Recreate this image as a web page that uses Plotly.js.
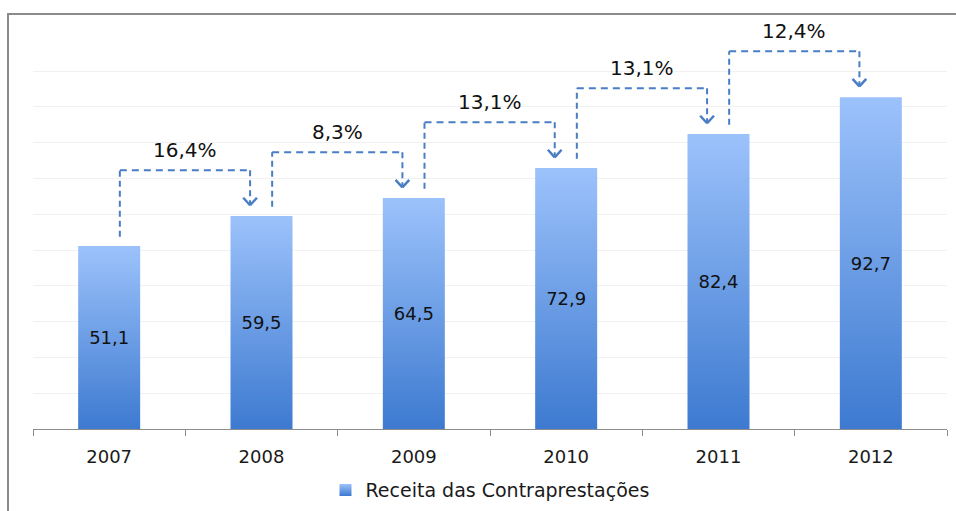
<!DOCTYPE html>
<html>
<head>
<meta charset="utf-8">
<script src="https://cdn.plot.ly/plotly-3.0.1.min.js"></script>
<style>
  html, body { margin: 0; padding: 0; background: #fff; }
  #wrap { position: relative; width: 956px; height: 511px; overflow: hidden; }
  #chart { width: 956px; height: 511px; }
  #frame {
    position: absolute; left: 7px; top: 13px; width: 970px; height: 520px;
    border-left: 2px solid #8a8a8a; border-top: 2px solid #8a8a8a;
    pointer-events: none;
  }
</style>
</head>
<body>
<div id="wrap">
  <div id="chart"></div>
  <div id="frame"></div>
</div>
<script>
// Revenue by year (R$ bi)
const years = ['2007', '2008', '2009', '2010', '2011', '2012'];
const receita = [51.1, 59.5, 64.5, 72.9, 82.4, 92.7];
// Year-over-year growth labels shown on the connector arrows
const growthLabels = ['16,4%', '8,3%', '13,1%', '13,1%', '12,4%'];
const seriesName = 'Receita das Contraprestações';
// Horizontal guide lines
const gridVals = [10, 20, 30, 40, 50, 60, 70, 80, 90, 100];

// Connector styling (offsets in category / value units)
const START_OFF = 0.07;   // where the arrow leaves the bar, right of centre
const END_OFF = -0.075;   // where the arrow lands, left of centre
const GAP_START = 2.6;    // gap above the source bar
const RISE = 12.8;        // horizontal run height above the target bar
const GAP_TIP = 3;        // gap between arrow tip and target bar
const HEAD_W = 0.045;     // chevron half-width (category units)
const HEAD_H = 2.1;       // chevron height (value units)
const ARROW_COLOR = '#4a7ec4';
const FONT = 'DejaVu Sans, Open Sans, sans-serif';

const shapes = [];
const annotations = [];
function seg(x0, y0, x1, y1, dash, width) {
  shapes.push({
    type: 'line', xref: 'x', yref: 'y', x0: x0, y0: y0, x1: x1, y1: y1,
    line: { color: ARROW_COLOR, width: width, dash: dash }
  });
}
for (let i = 0; i < growthLabels.length; i++) {
  const xa = i + START_OFF;
  const xb = i + 1 + END_OFF;
  const ya = receita[i] + GAP_START;
  const level = receita[i + 1] + RISE;
  const tip = receita[i + 1] + GAP_TIP;
  seg(xa, ya, xa, level, '6px,4px', 2);
  seg(xa, level, xb, level, '7px,5px', 2);
  seg(xb, level, xb, tip, '6px,4px', 2);
  seg(xb - HEAD_W, tip + HEAD_H, xb, tip, 'solid', 2.5);
  seg(xb + HEAD_W, tip + HEAD_H, xb, tip, 'solid', 2.5);
  annotations.push({
    x: (xa + xb) / 2, y: level, xref: 'x', yref: 'y', yshift: 20,
    text: growthLabels[i], showarrow: false,
    font: { family: FONT, size: 20, color: '#111' }
  });
}

const data = [{
  type: 'bar',
  x: years,
  y: receita,
  name: seriesName,
  marker: { color: '#6a9de6', line: { width: 0 } },
  texttemplate: '%{y:.1f}',
  textposition: 'inside',
  insidetextanchor: 'middle',
  textangle: 0,
  constraintext: 'none',
  textfont: { family: FONT, size: 18, color: '#111' },
  hoverinfo: 'skip'
}];

const layout = {
  width: 956, height: 511,
  margin: { l: 33, r: 9, t: 20, b: 82 },
  paper_bgcolor: '#fff', plot_bgcolor: '#fff',
  separators: ',.',
  bargap: 0.593,
  font: { family: FONT, color: '#111' },
  xaxis: {
    type: 'category', range: [-0.5, 5.5], automargin: false,
    tickson: 'boundaries', ticks: 'outside', ticklen: 6,
    tickcolor: '#8c8c8c', tickwidth: 1,
    showline: true, linecolor: '#8c8c8c', linewidth: 1,
    showgrid: false, zeroline: false,
    ticklabelstandoff: 11,
    tickfont: { family: FONT, size: 18, color: '#1a1a1a' },
    fixedrange: true
  },
  yaxis: {
    range: [0, 114.25], tickvals: gridVals, showticklabels: false, automargin: false,
    showgrid: true, gridcolor: '#f1f1f1', gridwidth: 1,
    zeroline: false, showline: false, ticks: '', fixedrange: true
  },
  showlegend: true,
  legend: {
    orientation: 'h', x: 0.5, xanchor: 'center',
    yref: 'container', y: 0.041, yanchor: 'middle',
    font: { family: FONT, size: 19, color: '#1a1a1a' }, bgcolor: 'rgba(0,0,0,0)'
  },
  shapes: shapes,
  annotations: annotations
};

Plotly.newPlot('chart', data, layout, { staticPlot: true, displayModeBar: false }).then(function (gd) {
  // Vertical light-to-dark fill on each bar and on the legend swatch
  const ns = 'http://www.w3.org/2000/svg';
  const svg = gd.querySelector('svg.main-svg');
  let defs = svg.querySelector('defs');
  if (!defs) { defs = document.createElementNS(ns, 'defs'); svg.insertBefore(defs, svg.firstChild); }
  const lg = document.createElementNS(ns, 'linearGradient');
  lg.setAttribute('id', 'barFill');
  lg.setAttribute('x1', '0'); lg.setAttribute('y1', '0');
  lg.setAttribute('x2', '0'); lg.setAttribute('y2', '1');
  [['0', '#9cc2fb'], ['1', '#3d7ad0']].forEach(function (s) {
    const st = document.createElementNS(ns, 'stop');
    st.setAttribute('offset', s[0]);
    st.setAttribute('stop-color', s[1]);
    lg.appendChild(st);
  });
  defs.appendChild(lg);
  gd.querySelectorAll('.barlayer .point path').forEach(function (p) {
    p.style.fill = 'url(#barFill)';
  });
  gd.querySelectorAll('.legendpoints path').forEach(function (p) {
    p.style.fill = 'url(#barFill)';
  });
});
</script>
</body>
</html>
